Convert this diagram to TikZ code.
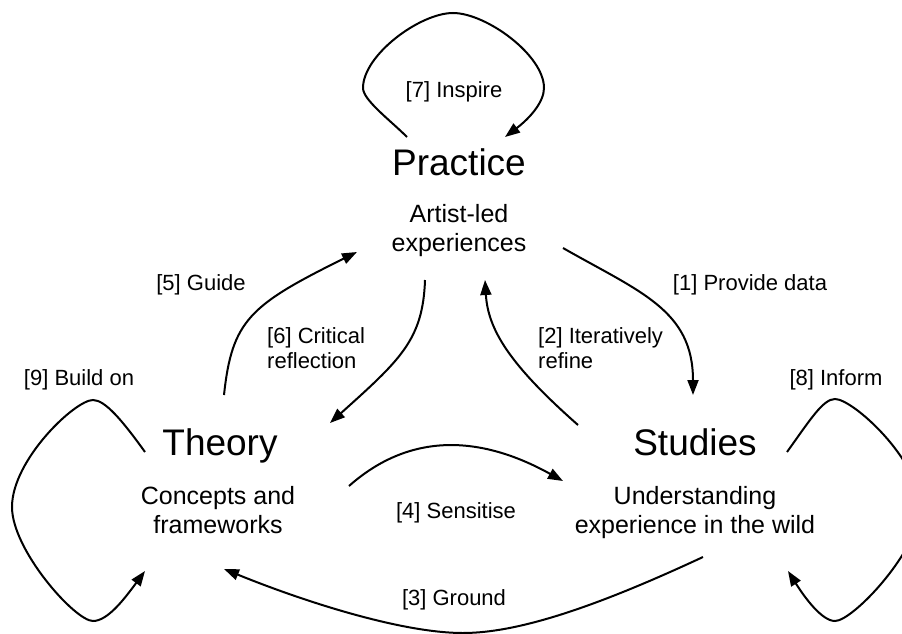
\documentclass[tikz,border=0pt]{standalone}
\usepackage{fontspec}
\setmainfont{Liberation Sans}
\usetikzlibrary{arrows.meta}
\begin{document}
\begin{tikzpicture}[x=1pt,y=-1pt,
  title/.style={font=\fontsize{37}{44}\selectfont, inner sep=0pt, anchor=base},
  subtitle/.style={font=\fontsize{25}{29}\selectfont, align=center, inner sep=0pt, anchor=base},
  lbl/.style={font=\fontsize{22}{25}\selectfont, inner sep=0pt, anchor=base},
  flow/.style={line width=2pt, -{Triangle[length=15pt,width=11pt]}}]
\useasboundingbox (0,0) rectangle (902,634);

% the three activities (multi-line nodes sit on their last baseline)
\node[title] (prac) at (459,175) {Practice};
\node[subtitle] (pracsub) at (459,251) {Artist-led\\experiences};
\node[title] (theo) at (220,455) {Theory};
\node[subtitle] (theosub) at (218,533) {Concepts and\\frameworks};
\node[title] (stud) at (695,455) {Studies};
\node[subtitle] (studsub) at (695,533) {Understanding\\experience in the wild};

% relation labels
\node[lbl] (l7) at (454,97) {[7] Inspire};
\node[lbl] (l5) at (201,290) {[5] Guide};
\node[lbl, align=left, anchor=base west] (l6) at (267,368) {[6] Critical\\reflection};
\node[lbl] (l1) at (750,290) {[1] Provide data};
\node[lbl, align=left, anchor=base west] (l2) at (538,368) {[2] Iteratively\\refine};
\node[lbl] (l8) at (836,385) {[8] Inform};
\node[lbl] (l9) at (79,385) {[9] Build on};
\node[lbl] (l4) at (456,518) {[4] Sensitise};
\node[lbl] (l3) at (454,605) {[3] Ground};

% connector end points
\coordinate (i7s) at (407,137); \coordinate (i7e) at (505,137);
\coordinate (b9s) at (145,452); \coordinate (b9e) at (145,571);
\coordinate (b8s) at (787,452); \coordinate (b8e) at (788,571);
\coordinate (c1s) at (563,248); \coordinate (c1e) at (693,395);
\coordinate (c2s) at (578,425); \coordinate (c2e) at (485,280);
\coordinate (c6s) at (425,280); \coordinate (c6e) at (330,423);
\coordinate (c5s) at (224,395); \coordinate (c5e) at (357,252);
\coordinate (c4s) at (349,486); \coordinate (c4e) at (563,481);
\coordinate (c3s) at (703,557); \coordinate (c3e) at (224,569);

% self loops
\draw[flow] (i7s) .. controls (390,120) and (363,100) .. (363,88)
                  .. controls (363,55) and (420,13) .. (453,13)
                  .. controls (486,13) and (544,55) .. (544,88)
                  .. controls (544,102) and (530,118) .. (i7e);
\draw[flow] (b9s) .. controls (122,420) and (105,400) .. (93,400)
                  .. controls (75,400) and (12,460) .. (12,507)
                  .. controls (12,550) and (75,621) .. (93,621)
                  .. controls (108,621) and (125,598) .. (b9e);
\draw[flow] (b8s) .. controls (810,420) and (823,399) .. (835,399)
                  .. controls (853,399) and (920,460) .. (920,507)
                  .. controls (920,550) and (853,621) .. (835,621)
                  .. controls (822,621) and (805,598) .. (b8e);

% flows between activities
\draw[flow] (c1s) .. controls (640,292) and (693,310) .. (c1e);
\draw[flow] (c2s) .. controls (510,365) and (488,330) .. (c2e);
\draw[flow] (c6s) .. controls (423,340) and (400,360) .. (c6e);
\draw[flow] (c5s) .. controls (232,320) and (250,305) .. (c5e);
\draw[flow] (c4s) .. controls (410,432) and (480,435) .. (c4e);
\draw[flow] (c3s) .. controls (600,605) and (520,633) .. (463,633)
                  .. controls (400,633) and (300,600) .. (c3e);
\end{tikzpicture}
\end{document}
